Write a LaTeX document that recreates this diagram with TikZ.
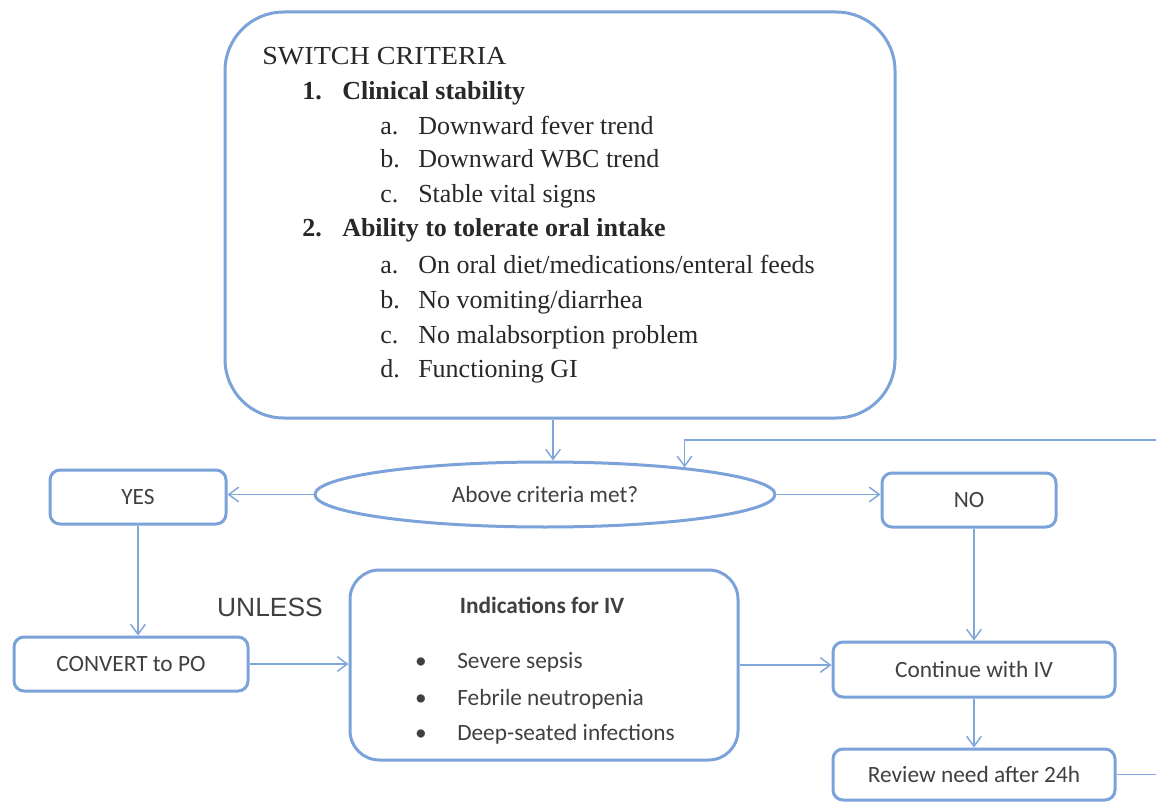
\documentclass[tikz,border=0pt]{standalone}
\usepackage{fontspec}
\setmainfont{Liberation Serif}
\newfontfamily\calfont{Carlito}
\newfontfamily\arialfont{Liberation Sans}
\usetikzlibrary{arrows.meta,shapes.geometric}
\definecolor{boxblue}{RGB}{123,163,218}
\definecolor{arrblue}{RGB}{128,166,218}
\definecolor{txtgray}{RGB}{64,64,64}
\definecolor{sertext}{RGB}{40,40,40}
\tikzset{
  box/.style={draw=boxblue, line width=2.25pt, rounded corners=7.5pt, inner sep=0pt,
    font=\calfont\fontsize{17.5}{21}\selectfont, text=txtgray},
  arr/.style={draw=arrblue, line width=1.1pt,
    -{Straight Barb[length=7.5pt,width=11pt,line width=1.1pt]}},
  ser/.style={anchor=base west, inner sep=0pt, font=\fontsize{19.5}{22}\selectfont, text=sertext},
  serb/.style={ser, font=\bfseries\fontsize{19.5}{22}\selectfont},
  sans/.style={inner sep=0pt, font=\calfont\fontsize{17.5}{21}\selectfont, text=txtgray},
}
\begin{document}
\begin{tikzpicture}[x=0.75pt,y=-0.75pt]
\useasboundingbox[fill=white] (0,0) rectangle (1156,802);
\clip (0,0) rectangle (1156,802);

% big criteria box
\node[box, rounded corners=44pt, minimum width=502.5pt, minimum height=304.5pt] (big) at (560,215) {};
\node[ser, xscale=1.08, transform shape] (t0) at (262,65) {SWITCH CRITERIA};
\node[serb] (n1) at (302,100) {1.};
\node[serb] (t1) at (342,100) {Clinical stability};
\node[ser] (l1a) at (380,135) {a.};
\node[ser] (t1a) at (418,135) {Downward fever trend};
\node[ser] (l1b) at (380,168) {b.};
\node[ser] (t1b) at (418,168) {Downward WBC trend};
\node[ser] (l1c) at (380,203) {c.};
\node[ser] (t1c) at (418,203) {Stable vital signs};
\node[serb] (n2) at (302,237) {2.};
\node[serb] (t2) at (342,237) {Ability to tolerate oral intake};
\node[ser] (l2a) at (380,273) {a.};
\node[ser] (t2a) at (418,273) {On oral diet/medications/enteral feeds};
\node[ser] (l2b) at (380,308) {b.};
\node[ser] (t2b) at (418,308) {No vomiting/diarrhea};
\node[ser] (l2c) at (380,343) {c.};
\node[ser] (t2c) at (418,343) {No malabsorption problem};
\node[ser] (l2d) at (380,377) {d.};
\node[ser] (t2d) at (418,377) {Functioning GI};

% decision ellipse
\node[ellipse, draw=boxblue, line width=2.25pt, inner sep=0pt, minimum width=345pt, minimum height=48.75pt,
  font=\calfont\fontsize{17.5}{21}\selectfont, text=txtgray] (ell) at (545,494.5) {Above criteria met?};

% boxes
\node[box, minimum width=132pt, minimum height=40.5pt] (yes) at (138,497) {YES};
\node[box, minimum width=130.5pt, minimum height=40.5pt] (no) at (969,500) {NO};
\node[box, minimum width=175.5pt, minimum height=40.5pt] (conv) at (131,664) {CONVERT to PO};
\node[box, rounded corners=22pt, minimum width=291pt, minimum height=142.5pt] (ind) at (544,665) {};
\node[box, minimum width=211.5pt, minimum height=41.25pt] (cont) at (974,669.5) {Continue with IV};
\node[box, minimum width=211.5pt, minimum height=38.25pt] (rev) at (974,774.5) {Review need after 24h};

% indications content
\node[sans, anchor=base, font=\calfont\bfseries\fontsize{17.5}{21}\selectfont] (indt) at (542,613) {Indications for IV};
\node[sans, anchor=base] (b1) at (421,668) {\textbullet};
\node[sans, anchor=base west] (i1) at (457,668) {Severe sepsis};
\node[sans, anchor=base] (b2) at (421,705) {\textbullet};
\node[sans, anchor=base west] (i2) at (457,705) {Febrile neutropenia};
\node[sans, anchor=base] (b3) at (421,740) {\textbullet};
\node[sans, anchor=base west] (i3) at (457,740) {Deep-seated infections};

% UNLESS label
\node[inner sep=0pt, font=\arialfont\fontsize{19.8}{24}\selectfont, text=txtgray] (unless) at (270,607) {UNLESS};

% connectors
\draw[arr] ([xshift=-5.25pt]big.south) -- ([xshift=-5.25pt]big.south |- ell.north);
\draw[arr] (ell.west) -- (ell.west -| yes.east);
\draw[arr] (ell.east) -- (ell.east -| no.west);
\draw[arr] (yes.south) -- (yes.south |- conv.north);
\draw[arr] (conv.east) -- (conv.east -| ind.west);
\draw[arr] (ind.east) -- (ind.east -| cont.west);
\draw[arr] (cont.north |- no.south) -- (cont.north);
\draw[arr] (cont.south) -- (rev.north);
\coordinate (lp) at (1175,440);
\coordinate (lt) at (ell.11.6 |- lp);
\draw[arr] (rev.east) -| (lp) -- (lt) -- (ell.11.6);
\end{tikzpicture}
\end{document}
